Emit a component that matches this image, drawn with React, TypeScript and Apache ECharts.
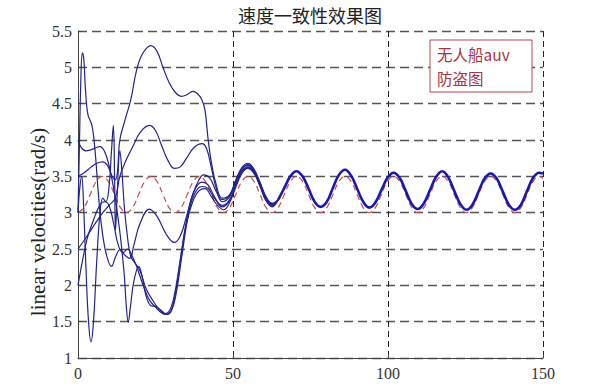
import React, { useEffect, useRef } from "react";
import * as echarts from "echarts";

const titleText = "速度一致性效果图";
const yAxisName = "linear velocities(rad/s)";
const noteLines = ["无人船auv", "防盗图"];

// reference (desired) velocity, red dashed
const refTime = [0, 1.96, 3.92, 5.87, 7.83, 9.79, 11.75, 13.7, 15.66, 17.62, 19.58, 21.53, 23.49, 25.45, 27.41, 29.36, 31.32, 33.28, 35.24, 37.19, 39.15, 41.11, 43.07, 45.02, 46.98, 48.94, 50.9, 52.85, 54.81, 56.77, 58.73, 60.68, 62.64, 64.6, 66.56, 68.51, 70.47, 72.43, 74.39, 76.34, 78.3, 80.26, 82.22, 84.17, 86.13, 88.09, 90.05, 92, 93.96, 95.92, 97.88, 99.83, 101.79, 103.75, 105.71, 107.66, 109.62, 111.58, 113.54, 115.49, 117.45, 119.41, 121.37, 123.32, 125.28, 127.24, 129.2, 131.15, 133.11, 135.07, 137.03, 138.98, 140.94, 142.9, 144.86, 146.81, 148.77, 150];
const refValue = [
  3.0, 3.07, 3.25, 3.43, 3.5, 3.43, 3.25, 3.07,
  3.0, 3.07, 3.25, 3.43, 3.5, 3.43, 3.25, 3.07,
  3.0, 3.07, 3.25, 3.43, 3.5, 3.43, 3.25, 3.07,
  3.0, 3.07, 3.25, 3.43, 3.5, 3.43, 3.25, 3.07,
  3.0, 3.07, 3.25, 3.43, 3.5, 3.43, 3.25, 3.07,
  3.0, 3.07, 3.25, 3.43, 3.5, 3.43, 3.25, 3.07,
  3.0, 3.07, 3.25, 3.43, 3.5, 3.43, 3.25, 3.07,
  3.0, 3.07, 3.25, 3.43, 3.5, 3.43, 3.25, 3.07,
  3.0, 3.07, 3.25, 3.43, 3.5, 3.43, 3.25, 3.07,
  3.0, 3.07, 3.25, 3.43, 3.5, 3.47,
];

// individual agents before consensus: [time, velocity]
const agentA = [[0, 3.5], [2, 3.55], [4, 3.62], [6, 3.68], [8, 3.7], [9.5, 3.65], [11, 3.5], [12, 3.45], [12.7, 3.55], [13.5, 4.0], [15, 4.25], [17, 4.55], [19, 4.98], [21, 5.2], [23.5, 5.3], [25.5, 5.22], [27.4, 5.0], [29.5, 4.78], [31.5, 4.65], [33.4, 4.6], [35, 4.62], [37, 4.67], [38.5, 4.64], [40, 4.55], [41, 4.4], [42, 4.0], [43, 3.7], [44.5, 3.4], [46.5, 3.2], [48.94, 3.25], [50.9, 3.45], [52.85, 3.62], [54.81, 3.68], [56.77, 3.6], [58.73, 3.42], [60.68, 3.22], [62.64, 3.13], [64.6, 3.18]];
const agentB = [[0, 2.5], [2, 2.62], [4, 2.75], [6, 2.88], [8, 3.0], [10, 3.1], [12, 3.2], [13.5, 3.5], [15.5, 3.72], [17.7, 3.91], [20, 4.1], [23, 4.2], [25, 4.13], [27, 3.92], [29, 3.72], [31, 3.61], [33, 3.63], [35, 3.75], [37.5, 3.9], [40, 3.95], [41.5, 3.88], [43, 3.62], [44.5, 3.35], [46.5, 3.15], [48.94, 3.22], [50.9, 3.43], [52.85, 3.6], [54.81, 3.66], [56.77, 3.58], [58.73, 3.4], [60.68, 3.2], [62.64, 3.12], [64.6, 3.18]];
const agentC = [[0, 4.0], [1, 3.9], [2.5, 3.85], [4.5, 3.87], [7, 3.91], [8.5, 3.85], [10, 3.65], [11, 3.45], [12, 3.2], [13, 2.9], [14, 2.55], [15, 2.1], [15.6, 1.7], [16.2, 1.49], [16.9, 1.7], [18, 2.05], [19.6, 2.26], [20.8, 2.1], [22, 1.85], [23.5, 1.72], [25, 1.71], [27, 1.65], [28.5, 1.6], [30, 1.65], [31.5, 1.9], [33.5, 2.5], [35.5, 3.0], [37.5, 3.3], [40, 3.42], [42, 3.38], [44, 3.22], [46.5, 3.08], [48.94, 3.17], [50.9, 3.38], [52.85, 3.56], [54.81, 3.62], [56.77, 3.55], [58.73, 3.37], [60.68, 3.17], [62.64, 3.09], [64.6, 3.18]];
const agentD = [[0, 3.0], [0.4, 3.8], [0.9, 4.8], [1.4, 5.2], [1.9, 5.1], [2.4, 4.7], [3.2, 4.35], [4.5, 4.2], [5.5, 3.85], [6.5, 3.3], [7.5, 2.85], [9, 2.45], [10.8, 2.26], [12.2, 2.4], [13.5, 2.49], [15, 2.42], [16.7, 2.37], [18, 2.55], [20, 2.85], [23, 3.05], [25.5, 2.95], [28.5, 2.7], [31, 2.59], [33, 2.68], [35, 2.95], [37, 3.25], [39, 3.45], [40.5, 3.52], [42.5, 3.48], [44.5, 3.3], [46.5, 3.18], [48.94, 3.24], [50.9, 3.44], [52.85, 3.6], [54.81, 3.65], [56.77, 3.57], [58.73, 3.39], [60.68, 3.2], [62.64, 3.11], [64.6, 3.18]];
const agentE = [[0, 3.0], [0.6, 3.35], [1.2, 3.5], [1.8, 3.1], [2.6, 2.2], [3.4, 1.5], [4.2, 1.22], [5, 1.5], [6, 2.3], [7, 2.95], [8, 3.2], [9, 3.15], [10, 3.35], [10.8, 3.85], [11.4, 4.2], [11.8, 3.5], [12.1, 2.76], [12.7, 3.3], [13.5, 3.85], [14.2, 3.55], [15, 3.05], [16, 2.65], [17, 2.4], [18.5, 2.3], [20, 2.2], [22, 1.95], [24, 1.8], [26, 1.68], [28, 1.61], [29.5, 1.65], [31, 1.85], [33, 2.35], [35, 2.85], [37, 3.15], [39, 3.3], [41, 3.33], [43, 3.22], [45, 3.1], [47, 3.04], [48.94, 3.14], [50.9, 3.35], [52.85, 3.54], [54.81, 3.61], [56.77, 3.54], [58.73, 3.36], [60.68, 3.16], [62.64, 3.08], [64.6, 3.18]];
const agentF = [[0, 2.0], [1.5, 2.35], [3, 2.65], [5, 2.9], [7, 3.1], [8.5, 3.15], [10, 3.1], [11.5, 2.85], [13, 2.55], [14.5, 2.45], [16, 2.5], [17.5, 2.4], [19, 2.25], [21, 2.0], [23, 1.8], [25, 1.7], [27, 1.62], [28.5, 1.6], [30, 1.64], [31.5, 1.85], [33.5, 2.4], [35.5, 2.95], [37.5, 3.25], [40, 3.36], [42, 3.33], [44, 3.2], [46.5, 3.1], [48.94, 3.18], [50.9, 3.39], [52.85, 3.57], [54.81, 3.63], [56.77, 3.56], [58.73, 3.38], [60.68, 3.18], [62.64, 3.1], [64.6, 3.18]];

// consensus (all agents overlapping) after t = 64.6
const tailTime = [64.6, 66.56, 68.51, 70.47, 72.43, 74.39, 76.34, 78.3, 80.26, 82.22, 84.17, 86.13, 88.09, 90.05, 92, 93.96, 95.92, 97.88, 99.83, 101.79, 103.75, 105.71, 107.66, 109.62, 111.58, 113.54, 115.49, 117.45, 119.41, 121.37, 123.32, 125.28, 127.24, 129.2, 131.15, 133.11, 135.07, 137.03, 138.98, 140.94, 142.9, 144.86, 146.81, 148.77, 150];
const tailValue = [3.18, 3.34, 3.5, 3.57, 3.5, 3.33, 3.15, 3.08, 3.15, 3.34, 3.52, 3.59, 3.51, 3.33, 3.15, 3.07, 3.14, 3.31, 3.48, 3.55, 3.48, 3.3, 3.12, 3.05, 3.13, 3.31, 3.49, 3.57, 3.49, 3.3, 3.12, 3.04, 3.11, 3.29, 3.47, 3.54, 3.47, 3.29, 3.11, 3.04, 3.11, 3.3, 3.48, 3.55, 3.54];

const agents = [agentA, agentB, agentC, agentD, agentE, agentF];

export default function App() {
  const ref = useRef<HTMLDivElement>(null);
  useEffect(() => {
    if (!ref.current) return;
    const chart = echarts.init(ref.current, null, { renderer: "svg" });
    const serif = "'Liberation Serif', 'DejaVu Serif', serif";
    const series: any[] = agents.map((a) => ({
      type: "line",
      data: a,
      showSymbol: false,
      symbol: "none",
      smooth: 0.4,
      lineStyle: { color: "#23238c", width: 1.2 },
      z: 3,
    }));
    series.push({
      type: "line",
      data: tailTime.map((t, i) => [t, tailValue[i]]),
      showSymbol: false,
      symbol: "none",
      smooth: 0.4,
      lineStyle: { color: "#1818b0", width: 2.6 },
      z: 3,
    });
    series.push({
      type: "line",
      data: refTime.map((t, i) => [t, refValue[i]]),
      showSymbol: false,
      symbol: "none",
      smooth: 0.4,
      lineStyle: { color: "#cf4a4a", width: 1.2, type: [6, 4] },
      z: 2,
    });
    chart.setOption({
      animation: false,
      backgroundColor: "#ffffff",
      grid: { left: 78, right: 57, top: 31, bottom: 29 },
      xAxis: {
        type: "value",
        min: 0,
        max: 150,
        interval: 50,
        axisLine: { show: true, lineStyle: { color: "#444", width: 1 } },
        axisTick: { show: true, inside: true, length: 4, lineStyle: { color: "#444" } },
        axisLabel: { color: "#333", fontSize: 16, fontFamily: serif, margin: 7 },
        splitLine: { show: true, lineStyle: { color: "#222", width: 1, type: [6, 4] } },
      },
      yAxis: {
        type: "value",
        min: 1,
        max: 5.5,
        interval: 0.5,
        axisLine: { show: true, lineStyle: { color: "#444", width: 1 } },
        axisTick: { show: true, inside: true, length: 4, lineStyle: { color: "#444" } },
        axisLabel: { color: "#333", fontSize: 16, fontFamily: serif, margin: 6 },
        splitLine: { show: true, lineStyle: { color: "#555", width: 1.3, type: [9, 5] } },
      },
      series,
      graphic: [
        {
          type: "text",
          x: 310,
          y: 15,
          style: {
            text: titleText,
            fill: "#222",
            font: "18px 'Noto Sans CJK SC', sans-serif",
            align: "center",
            verticalAlign: "middle",
          },
        },
        {
          type: "text",
          x: 38,
          y: 222,
          rotation: Math.PI / 2,
          style: {
            text: yAxisName,
            fill: "#222",
            font: "21px 'Liberation Serif', serif",
            align: "center",
            verticalAlign: "middle",
          },
        },
        {
          type: "rect",
          shape: { x: 430, y: 40, width: 102, height: 52 },
          style: { fill: "#ffffff", stroke: "#b24652", lineWidth: 1 },
          z: 10,
        },
        {
          type: "text",
          x: 437,
          y: 54,
          z: 11,
          style: {
            text: noteLines[0],
            fill: "#a8343f",
            font: "15.5px 'Noto Sans CJK SC', sans-serif",
            verticalAlign: "middle",
          },
        },
        {
          type: "text",
          x: 437,
          y: 77.5,
          z: 11,
          style: {
            text: noteLines[1],
            fill: "#a8343f",
            font: "15.5px 'Noto Sans CJK SC', sans-serif",
            verticalAlign: "middle",
          },
        },
      ],
    });
    return () => chart.dispose();
  }, []);
  return <div ref={ref} style={{ width: 600, height: 387, position: "absolute", left: 0, top: 0 }} />;
}
